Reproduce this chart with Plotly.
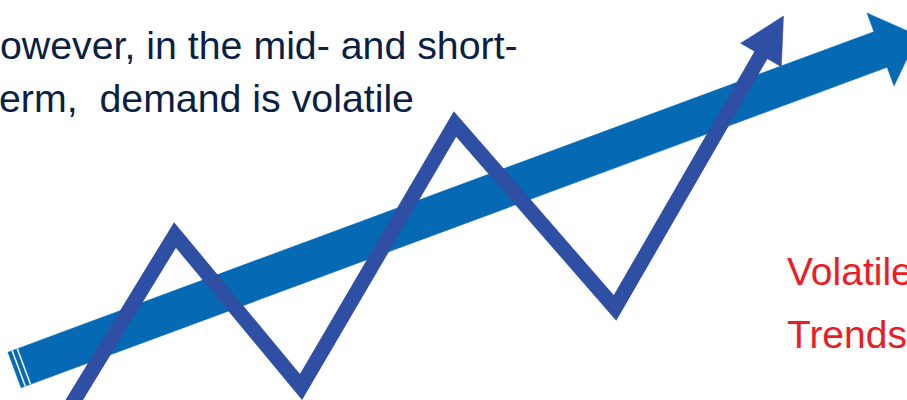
import numpy as np
import plotly.graph_objects as go

# Volatile demand path (zigzag), picture pixels: x to the right, y downward
zig_x = [62, 175, 301, 455, 615, 761]
zig_y = [420, 235, 387, 124, 308, 55]
zig_head_len = 45
zig_head_half = 23.5

# Long-term trend arrow
trend_tail = (14.5, 370.0)
trend_head_base = (880.5, 49.5)
trend_tip_len = 40
trend_width = 38
trend_head_width = 78
tail_stripes = [4.5, 10.0]

text_lines = ["owever, in the mid- and short-", "erm,  demand is volatile"]
label_lines = ["Volatile", "Trends"]

BAND = "#0569b3"
ZIG = "#2e4fa3"
NAVY = "#0b1f44"
RED = "#ec1c24"
FONT = "Liberation Sans, Arial, sans-serif"

fig = go.Figure()

# ---- trend band polygon
t = np.array(trend_tail)
b = np.array(trend_head_base)
d = (b - t) / np.linalg.norm(b - t)
n = np.array([-d[1], d[0]])
hw, hh = trend_width / 2, trend_head_width / 2
poly = [t - n * hw, b - n * hw, b - n * hh, b + d * trend_tip_len,
        b + n * hh, b + n * hw, t + n * hw, t - n * hw]
fig.add_trace(go.Scatter(x=[p[0] for p in poly], y=[p[1] for p in poly],
                         mode="lines", fill="toself", fillcolor=BAND,
                         line=dict(color=BAND, width=0.5), hoverinfo="skip"))
for s in tail_stripes:
    p1 = t + d * s - n * hw
    p2 = t + d * s + n * hw
    fig.add_trace(go.Scatter(x=[p1[0], p2[0]], y=[p1[1], p2[1]], mode="lines",
                             line=dict(color="white", width=1.5), hoverinfo="skip"))

# ---- zigzag
zx = list(zig_x)
zy = list(zig_y)
p_prev = np.array([zig_x[-2], zig_y[-2]], dtype=float)
p_end = np.array([zig_x[-1], zig_y[-1]], dtype=float)
dz = (p_end - p_prev) / np.linalg.norm(p_end - p_prev)
nz = np.array([-dz[1], dz[0]])
zx[-1] = p_end[0] + dz[0] * 3
zy[-1] = p_end[1] + dz[1] * 3
fig.add_trace(go.Scatter(x=zx, y=zy, mode="lines",
                         line=dict(color=ZIG, width=15), hoverinfo="skip"))
head = [p_end + nz * zig_head_half, p_end + dz * zig_head_len,
        p_end - nz * zig_head_half, p_end + nz * zig_head_half]
fig.add_trace(go.Scatter(x=[p[0] for p in head], y=[p[1] for p in head],
                         mode="lines", fill="toself", fillcolor=ZIG,
                         line=dict(color=ZIG, width=0.5), hoverinfo="skip"))

# ---- texts
for i, line in enumerate(text_lines):
    fig.add_annotation(x=0, xshift=[-2.3, -3.5][i], y=[45, 98][i], xref="x", yref="y",
                       text=line, showarrow=False, xanchor="left", yanchor="middle",
                       font=dict(family=FONT, size=39.3, color=NAVY))
for i, line in enumerate(label_lines):
    fig.add_annotation(x=785, y=[271, 334][i], xref="x", yref="y", text=line,
                       showarrow=False, xanchor="left", yanchor="middle",
                       font=dict(family=FONT, size=39, color=RED))

fig.update_layout(width=907, height=400, margin=dict(l=0, r=0, t=0, b=0),
                  paper_bgcolor="white", plot_bgcolor="white", showlegend=False,
                  xaxis=dict(range=[0, 907], visible=False, fixedrange=True),
                  yaxis=dict(range=[400, 0], visible=False, fixedrange=True))
fig.write_html("out.html", config={"displayModeBar": False},
               post_script="document.body.style.margin='0';document.body.style.overflow='hidden';")
